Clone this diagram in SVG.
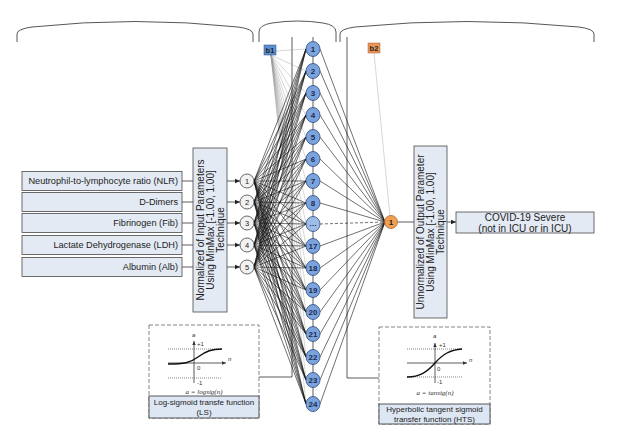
<svg xmlns="http://www.w3.org/2000/svg" width="617" height="433" viewBox="0 0 617 433">
<style>
text{font-family:"Liberation Sans",Arial,sans-serif;fill:#222}
.box{fill:#e4eaf4;stroke:#4a4a4a;stroke-width:0.8}
.lbl{font-size:9.2px;text-anchor:end}
.vt{font-size:10px;text-anchor:middle}
.hn{fill:#7ba3dc;stroke:#2b4a80;stroke-width:0.8}
.hnt{font-size:8px;text-anchor:middle;fill:#1d2b52;font-weight:bold}
.inn{fill:#f2f2f2;stroke:#444;stroke-width:0.8}
.int{font-size:7.5px;text-anchor:middle;fill:#222}
.e{stroke:#111;stroke-width:0.6;fill:none}
.eb{stroke:#999;stroke-width:0.4;fill:none}
.ln{stroke:#333;stroke-width:0.8;fill:none}
.dash{fill:#fff;stroke:#666;stroke-width:0.8;stroke-dasharray:4 2}
.dot{stroke:#333;stroke-width:0.6;stroke-dasharray:1 1;fill:none}
.sm{font-size:6px;fill:#333}
.fm{font-size:7px;font-style:italic;text-anchor:middle;fill:#333;font-family:"Liberation Serif",serif}
.cap{font-size:8px;text-anchor:middle}
</style>
<defs>
<marker id="ar" markerWidth="6" markerHeight="6" refX="5" refY="3" orient="auto" markerUnits="userSpaceOnUse"><path d="M0,0.8 L5,3 L0,5.2 z" fill="#222"/></marker>
<marker id="ars" markerWidth="5" markerHeight="5" refX="4" refY="2.5" orient="auto" markerUnits="userSpaceOnUse"><path d="M0,0.8 L4,2.5 L0,4.2 z" fill="#333"/></marker>
</defs>

<g id="braces" fill="none" stroke="#444" stroke-width="0.9">
<path d="M17,42 V34 Q17,29 32,27 Q135,16 238,27 Q253,29 253,34 V42"/>
<path d="M259,42 V32 Q259,25 272,23 Q298,19 323,23 Q336,25 336,32 V42"/>
<path d="M340,42 V34 Q340,29 355,27 Q467,16 579,27 Q594,29 594,34 V42"/>
</g>

<g id="connectors">
<!-- guide lines -->
<path class="ln" d="M292,37 V377 H259"/>
<path class="ln" d="M347,37 V378 H379"/>
<path class="ln" d="M313,37 V404"/>
<!-- input boxes to normalization box -->
<path class="ln" d="M182,181H193M182,202H193M182,223H193M182,245H193M182,267H193"/>
<!-- normalization box to input nodes -->
<path class="ln" marker-end="url(#ar)" d="M227,181H240"/>
<path class="ln" marker-end="url(#ar)" d="M227,202H240"/>
<path class="ln" marker-end="url(#ar)" d="M227,223H240"/>
<path class="ln" marker-end="url(#ar)" d="M227,245H240"/>
<path class="ln" marker-end="url(#ar)" d="M227,267H240"/>
<!-- bias 1 -->
<path class="eb" d="M276,51L306,49M271,55L306,71M271,55L306,93M271,55L306,115M271,55L306,137M271,55L306,159M271,55L306,181M271,55L306,203M271,55L306,224M271,55L306,246M271,55L306,268M271,55L306,290M271,55L306,312M271,55L306,334M271,55L306,357M271,55L306,380M271,55L306,404"/>
<!-- input to hidden -->
<path class="e" d="M254,181L306,49M254,181L306,71M254,181L306,93M254,181L306,115M254,181L306,137M254,181L306,159M254,181L306,181M254,181L306,203M254,181L306,224M254,181L306,246M254,181L306,268M254,181L306,290M254,181L306,312M254,181L306,334M254,181L306,357M254,181L306,380M254,181L306,404"/>
<path class="e" d="M254,202L306,49M254,202L306,71M254,202L306,93M254,202L306,115M254,202L306,137M254,202L306,159M254,202L306,181M254,202L306,203M254,202L306,224M254,202L306,246M254,202L306,268M254,202L306,290M254,202L306,312M254,202L306,334M254,202L306,357M254,202L306,380M254,202L306,404"/>
<path class="e" d="M254,223L306,49M254,223L306,71M254,223L306,93M254,223L306,115M254,223L306,137M254,223L306,159M254,223L306,181M254,223L306,203M254,223L306,224M254,223L306,246M254,223L306,268M254,223L306,290M254,223L306,312M254,223L306,334M254,223L306,357M254,223L306,380M254,223L306,404"/>
<path class="e" d="M254,245L306,49M254,245L306,71M254,245L306,93M254,245L306,115M254,245L306,137M254,245L306,159M254,245L306,181M254,245L306,203M254,245L306,224M254,245L306,246M254,245L306,268M254,245L306,290M254,245L306,312M254,245L306,334M254,245L306,357M254,245L306,380M254,245L306,404"/>
<path class="e" d="M254,267L306,49M254,267L306,71M254,267L306,93M254,267L306,115M254,267L306,137M254,267L306,159M254,267L306,181M254,267L306,203M254,267L306,224M254,267L306,246M254,267L306,268M254,267L306,290M254,267L306,312M254,267L306,334M254,267L306,357M254,267L306,380M254,267L306,404"/>
<!-- hidden to output -->
<path class="e" d="M320,49L385,222M320,71L385,222M320,93L385,222M320,115L385,222M320,137L385,222M320,159L385,222M320,181L385,222M320,203L385,222M320,246L385,222M320,268L385,222M320,290L385,222M320,312L385,222M320,334L385,222M320,357L385,222M320,380L385,222M320,404L385,222"/>
<path class="e" stroke-dasharray="3 2" d="M320,224L385,222"/>
<!-- bias 2 -->
<path class="eb" d="M374,53L390,216"/>
<!-- output -->
<path class="ln" d="M398,222H414"/>
<path class="ln" marker-end="url(#ar)" d="M447,222H456"/>
</g>

<g id="in-nlr"><rect class="box" x="22" y="171.5" width="160" height="19"/><text class="lbl" x="178" y="184.3">Neutrophil-to-lymphocyte ratio (NLR)</text></g>
<g id="in-dd"><rect class="box" x="22" y="192.5" width="160" height="19"/><text class="lbl" x="178" y="205.3">D-Dimers</text></g>
<g id="in-fib"><rect class="box" x="22" y="213.5" width="160" height="19"/><text class="lbl" x="178" y="226.3">Fibrinogen (Fib)</text></g>
<g id="in-ldh"><rect class="box" x="22" y="235.5" width="160" height="19"/><text class="lbl" x="178" y="248.3">Lactate Dehydrogenase (LDH)</text></g>
<g id="in-alb"><rect class="box" x="22" y="257.5" width="160" height="19"/><text class="lbl" x="178" y="270.3">Albumin (Alb)</text></g>

<g id="norm-in"><rect class="box" x="193" y="148" width="34" height="164"/>
<text class="vt" transform="translate(203.5,230) rotate(-90)">Normalized of Input Parameters</text>
<text class="vt" transform="translate(213.5,230) rotate(-90)">Using MinMax [-1.00, 1.00]</text>
<text class="vt" transform="translate(223.5,230) rotate(-90)">Technique</text></g>

<g id="input-nodes">
<g id="i1"><circle class="inn" cx="247" cy="181" r="7"/><text class="int" x="247" y="183.7">1</text></g>
<g id="i2"><circle class="inn" cx="247" cy="202" r="7"/><text class="int" x="247" y="204.7">2</text></g>
<g id="i3"><circle class="inn" cx="247" cy="223" r="7"/><text class="int" x="247" y="225.7">3</text></g>
<g id="i4"><circle class="inn" cx="247" cy="245" r="7"/><text class="int" x="247" y="247.7">4</text></g>
<g id="i5"><circle class="inn" cx="247" cy="267" r="7"/><text class="int" x="247" y="269.7">5</text></g>
</g>

<g id="b1"><rect x="264" y="45" width="12" height="10" fill="#5b8fd0" stroke="#2b4a80" stroke-width="0.5"/><text x="270" y="53" font-size="7.5" text-anchor="middle" fill="#1d2b52" font-weight="bold">b1</text></g>
<g id="b2"><rect x="368" y="43" width="12" height="10" fill="#e8955a" stroke="#b0602a" stroke-width="0.5"/><text x="374" y="51" font-size="7.5" text-anchor="middle" fill="#5a2a10" font-weight="bold">b2</text></g>

<g id="hidden-nodes">
<g id="h1"><ellipse class="hn" cx="313" cy="49" rx="7" ry="7.5"/><text class="hnt" x="313" y="51.8">1</text></g>
<g id="h2"><ellipse class="hn" cx="313" cy="71" rx="7" ry="7.5"/><text class="hnt" x="313" y="73.8">2</text></g>
<g id="h3"><ellipse class="hn" cx="313" cy="93" rx="7" ry="7.5"/><text class="hnt" x="313" y="95.8">3</text></g>
<g id="h4"><ellipse class="hn" cx="313" cy="115" rx="7" ry="7.5"/><text class="hnt" x="313" y="117.8">4</text></g>
<g id="h5"><ellipse class="hn" cx="313" cy="137" rx="7" ry="7.5"/><text class="hnt" x="313" y="139.8">5</text></g>
<g id="h6"><ellipse class="hn" cx="313" cy="159" rx="7" ry="7.5"/><text class="hnt" x="313" y="161.8">6</text></g>
<g id="h7"><ellipse class="hn" cx="313" cy="181" rx="7" ry="7.5"/><text class="hnt" x="313" y="183.8">7</text></g>
<g id="h8"><ellipse class="hn" cx="313" cy="203" rx="7" ry="7.5"/><text class="hnt" x="313" y="205.8">8</text></g>
<g id="hdots"><ellipse class="hn" cx="313" cy="224" rx="7" ry="7.5" style="fill:#9dbce6"/><text class="hnt" x="313" y="226">…</text></g>
<g id="h17"><ellipse class="hn" cx="313" cy="246" rx="7" ry="7.5"/><text class="hnt" x="313" y="248.8">17</text></g>
<g id="h18"><ellipse class="hn" cx="313" cy="268" rx="7" ry="7.5"/><text class="hnt" x="313" y="270.8">18</text></g>
<g id="h19"><ellipse class="hn" cx="313" cy="290" rx="7" ry="7.5"/><text class="hnt" x="313" y="292.8">19</text></g>
<g id="h20"><ellipse class="hn" cx="313" cy="312" rx="7" ry="7.5"/><text class="hnt" x="313" y="314.8">20</text></g>
<g id="h21"><ellipse class="hn" cx="313" cy="334" rx="7" ry="7.5"/><text class="hnt" x="313" y="336.8">21</text></g>
<g id="h22"><ellipse class="hn" cx="313" cy="357" rx="7" ry="7.5"/><text class="hnt" x="313" y="359.8">22</text></g>
<g id="h23"><ellipse class="hn" cx="313" cy="380" rx="7" ry="7.5"/><text class="hnt" x="313" y="382.8">23</text></g>
<g id="h24"><ellipse class="hn" cx="313" cy="404" rx="7" ry="7.5"/><text class="hnt" x="313" y="406.8">24</text></g>
</g>

<g id="out-node"><circle cx="391" cy="222" r="6.5" fill="#f0a050" stroke="#b0602a" stroke-width="0.8"/><text x="391" y="224.8" font-size="8" text-anchor="middle" fill="#5a2a10" font-weight="bold">1</text></g>

<g id="norm-out"><rect class="box" x="414" y="146" width="33" height="172"/>
<text class="vt" transform="translate(423.5,232) rotate(-90)">Unnormalized of Output Parameter</text>
<text class="vt" transform="translate(433.5,232) rotate(-90)">Using MinMax [-1.00, 1.00]</text>
<text class="vt" transform="translate(443.5,232) rotate(-90)">Technique</text></g>

<g id="covid"><rect class="box" x="456" y="212" width="138" height="21"/>
<text x="525" y="221" font-size="10" text-anchor="middle">COVID-19 Severe</text>
<text x="525" y="231.5" font-size="10" text-anchor="middle">(not in ICU or in ICU)</text></g>

<g id="ls">
<rect class="dash" x="149" y="325" width="110" height="93"/>
<path class="ln" marker-end="url(#ars)" d="M194,383 V341"/>
<path class="ln" marker-end="url(#ars)" d="M168,363 H226"/>
<path class="dot" d="M168,349 H222 M168,378 H222"/>
<path d="M168,364 C184,364 190,363 198,357 C206,351 212,349 222,349" fill="none" stroke="#111" stroke-width="1.4"/>
<text class="sm" x="192" y="337" font-style="italic">a</text>
<text class="sm" x="197" y="346">+1</text>
<text class="sm" x="228" y="361" font-style="italic">n</text>
<text class="sm" x="197" y="370">0</text>
<text class="sm" x="197" y="385">-1</text>
<text class="fm" x="204" y="394">a = logsig(n)</text>
<rect x="149" y="396" width="110" height="22" fill="#dde6f3" stroke="#333" stroke-width="0.8"/>
<text class="cap" x="204" y="404.5">Log-sigmoid transfe function</text>
<text class="cap" x="204" y="415">(LS)</text>
</g>

<g id="hts">
<rect class="dash" x="379" y="327" width="111" height="97"/>
<path class="ln" marker-end="url(#ars)" d="M435,383 V343"/>
<path class="ln" marker-end="url(#ars)" d="M407,363 H467"/>
<path class="dot" d="M407,349 H462 M407,377 H462"/>
<path d="M407,377 C420,377 427,372 435,363 C443,354 450,350 462,349" fill="none" stroke="#111" stroke-width="1.4"/>
<text class="sm" x="433" y="338" font-style="italic">a</text>
<text class="sm" x="439" y="347">+1</text>
<text class="sm" x="469" y="362" font-style="italic">n</text>
<text class="sm" x="437" y="371">0</text>
<text class="sm" x="437" y="384">-1</text>
<text class="fm" x="435" y="395">a = tansig(n)</text>
<rect x="379" y="404" width="111" height="20" fill="#dde6f3" stroke="#333" stroke-width="0.8"/>
<text class="cap" x="434.5" y="412">Hyperbolic tangent sigmoid</text>
<text class="cap" x="434.5" y="421.5">transfer function (HTS)</text>
</g>
</svg>
